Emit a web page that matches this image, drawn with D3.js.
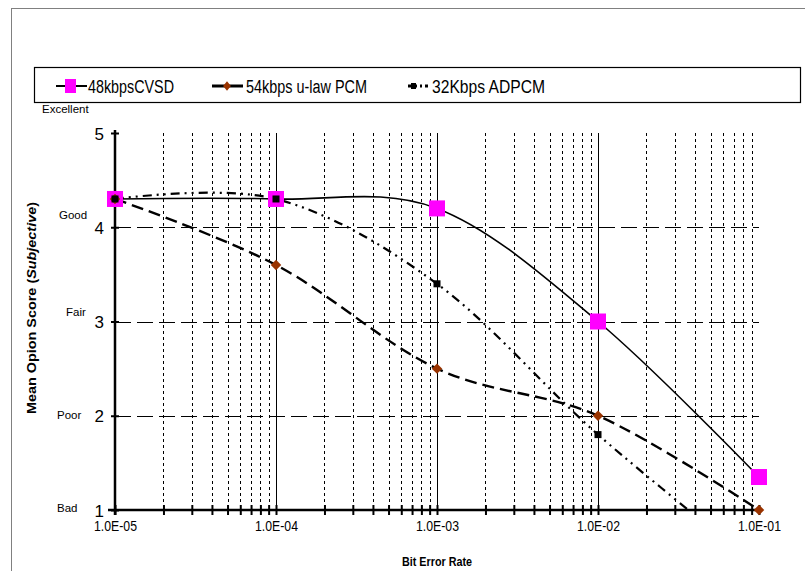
<!DOCTYPE html>
<head>
  <meta charset="utf-8">
  <script src="https://d3js.org/d3.v7.min.js"></script>
  <style>
    body { margin: 0; background: #fff; }
    text { font-family: "Liberation Sans", Arial, sans-serif; }
  </style>
</head>
<body>
<svg id="chart" width="805" height="571"></svg>
<script>
// data
var ber = [1e-5, 1e-4, 1e-3, 1e-2, 1e-1];
var cvsd = [4.3, 4.3, 4.2, 3.0, 1.35];     // 48kbpsCVSD
var pcm = [4.3, 3.6, 2.5, 2.0, 1.0];       // 54kbps u-law PCM
var adpcm = [4.3, 4.3, 3.4, 1.8, 0.4];     // 32Kbps ADPCM (runs off the bottom)
var xTickLabels = ["1.0E-05", "1.0E-04", "1.0E-03", "1.0E-02", "1.0E-01"];
var yTicks = [1, 2, 3, 4, 5];
var yQuality = ["Bad", "Poor", "Fair", "Good", "Excellent"];
var seriesNames = ["48kbpsCVSD", "54kbps u-law PCM", "32Kbps ADPCM"];

var svg = d3.select("#chart");

// plot area
var plotL = 115, plotR = 759, plotT = 133, plotB = 510;
var x = d3.scaleLog().domain([1e-5, 1e-1]).range([plotL, plotR]);
var y = d3.scaleLinear().domain([1, 5]).range([plotB, plotT]);

// outer frame
svg.append("rect")
  .attr("x", 11.5).attr("y", 8.5)
  .attr("width", 805).attr("height", 580)
  .attr("fill", "none").attr("stroke", "#808080");

// minor + major vertical grid
var minor = [];
for (var d = -5; d < -1; d++) {
  for (var m = 2; m <= 9; m++) minor.push(m * Math.pow(10, d));
}
svg.append("g").selectAll("line")
  .data(minor).enter().append("line")
  .attr("x1", function(d) { return Math.round(x(d)) + 0.5; })
  .attr("x2", function(d) { return Math.round(x(d)) + 0.5; })
  .attr("y1", plotT).attr("y2", plotB)
  .attr("stroke", "#000").attr("stroke-width", 1)
  .attr("stroke-dasharray", "3,3");

svg.append("g").selectAll("line")
  .data(ber.slice(1, 4)).enter().append("line")
  .attr("x1", function(d) { return Math.round(x(d)) + 0.5; })
  .attr("x2", function(d) { return Math.round(x(d)) + 0.5; })
  .attr("y1", plotT).attr("y2", plotB)
  .attr("stroke", "#000").attr("stroke-width", 1);

// horizontal dashed grid
svg.append("g").selectAll("line")
  .data([2, 3, 4]).enter().append("line")
  .attr("x1", plotL).attr("x2", plotR)
  .attr("y1", function(d) { return Math.round(y(d)) + 0.5; })
  .attr("y2", function(d) { return Math.round(y(d)) + 0.5; })
  .attr("stroke", "#000").attr("stroke-width", 1)
  .attr("stroke-dasharray", "16,6");

// axes
var xAxis = svg.append("g")
  .attr("transform", "translate(0," + plotB + ")")
  .call(d3.axisBottom(x).tickValues(ber.concat(minor)).tickSize(0).tickFormat(""));
xAxis.select(".domain").remove();
xAxis.append("line").attr("x1", 108).attr("x2", plotR)
  .attr("stroke", "#000").attr("stroke-width", 2.5);
xAxis.selectAll(".tick").append("line")
  .attr("y1", -5).attr("y2", 5).attr("stroke", "#000").attr("stroke-width", 2);
xAxis.selectAll(".tick").filter(function(d) { return ber.indexOf(d) >= 0; })
  .append("text")
  .attr("y", 21).attr("fill", "#000")
  .attr("font-size", "14px").attr("text-anchor", "middle")
  .attr("textLength", 43).attr("lengthAdjust", "spacingAndGlyphs")
  .text(function(d) { return xTickLabels[ber.indexOf(d)]; });

var yAxis = svg.append("g")
  .attr("transform", "translate(" + plotL + ",0)")
  .call(d3.axisLeft(y).tickValues(yTicks).tickSize(0).tickFormat(""));
yAxis.select(".domain").remove();
yAxis.append("line").attr("y1", plotT - 3).attr("y2", plotB + 5)
  .attr("stroke", "#000").attr("stroke-width", 2.5);
yAxis.selectAll(".tick").append("line")
  .attr("x1", -4).attr("x2", 4).attr("stroke", "#000").attr("stroke-width", 2);
yAxis.selectAll(".tick").append("text")
  .attr("x", -11).attr("dy", "0.36em").attr("fill", "#000")
  .attr("font-size", "17px").attr("text-anchor", "end")
  .text(function(d) { return d; });

// quality words beside the score ticks
var qualPos = [[57, 512], [57, 419], [66, 316], [59, 219], [42, 113]];
svg.append("g").selectAll("text")
  .data(yQuality).enter().append("text")
  .attr("x", function(d, i) { return qualPos[i][0]; })
  .attr("y", function(d, i) { return qualPos[i][1]; })
  .attr("font-size", "11.5px").attr("fill", "#000")
  .text(function(d) { return d; });

// axis titles
svg.append("text")
  .attr("x", 437).attr("y", 566)
  .attr("text-anchor", "middle").attr("font-size", "13px").attr("font-weight", "bold")
  .attr("textLength", 70).attr("lengthAdjust", "spacingAndGlyphs")
  .text("Bit Error Rate");

var yt = svg.append("text")
  .attr("transform", "translate(36,308) rotate(-90)")
  .attr("text-anchor", "middle").attr("font-size", "13px").attr("font-weight", "bold")
  .attr("textLength", 212).attr("lengthAdjust", "spacingAndGlyphs");
yt.append("tspan").text("Mean Opion Score (");
yt.append("tspan").attr("font-style", "italic").text("Subjective");
yt.append("tspan").text(")");

// lines
svg.append("clipPath").attr("id", "plotclip")
  .append("rect").attr("x", plotL - 20).attr("y", plotT - 20)
  .attr("width", plotR - plotL + 40).attr("height", plotB - plotT + 20);

var line = d3.line()
  .x(function(d) { return x(d[0]); })
  .y(function(d) { return y(d[1]); })
  .curve(d3.curveCatmullRom.alpha(0));

function pairs(vals) { return ber.map(function(b, i) { return [b, vals[i]]; }); }

var lines = svg.append("g").attr("clip-path", "url(#plotclip)");
lines.append("path").attr("d", line(pairs(cvsd)))
  .attr("fill", "none").attr("stroke", "#000").attr("stroke-width", 1.6);
lines.append("path").attr("d", line(pairs(pcm)))
  .attr("fill", "none").attr("stroke", "#000").attr("stroke-width", 2.4)
  .attr("stroke-dasharray", "12,6");
lines.append("path").attr("d", line(pairs(adpcm)))
  .attr("fill", "none").attr("stroke", "#000").attr("stroke-width", 2.2)
  .attr("stroke-dasharray", "9,5,2,5,2,5");

// markers
svg.append("g").selectAll("rect")
  .data(pairs(cvsd)).enter().append("rect")
  .attr("x", function(d) { return x(d[0]) - 8; })
  .attr("y", function(d) { return y(d[1]) - 8; })
  .attr("width", 16).attr("height", 16).attr("fill", "#ff00ff");

svg.append("g").selectAll("path")
  .data(pairs(pcm)).enter().append("path")
  .attr("d", d3.symbol().type(d3.symbolDiamond2).size(70))
  .attr("transform", function(d) { return "translate(" + x(d[0]) + "," + y(d[1]) + ")"; })
  .attr("fill", "#993300");

svg.append("g").selectAll("rect")
  .data(pairs(adpcm).filter(function(d) { return d[1] >= 1; })).enter().append("rect")
  .attr("x", function(d) { return x(d[0]) - 3.5; })
  .attr("y", function(d) { return y(d[1]) - 3.5; })
  .attr("width", 7).attr("height", 7).attr("fill", "#000");

// legend
var lg = svg.append("g");
lg.append("rect").attr("x", 34.5).attr("y", 67.5).attr("width", 766).attr("height", 35)
  .attr("fill", "#fff").attr("stroke", "#000").attr("stroke-width", 1.2);

var legendItems = [
  { x1: 56, x2: 87, tx: 88, w: 86, dash: null, width: 2 },
  { x1: 212, x2: 243, tx: 246, w: 121, dash: null, width: 3 },
  { x1: 408, x2: 428, tx: 432, w: 113, dash: "9,3,2,3", width: 3 }
];
var li = lg.selectAll(".legend").data(legendItems).enter().append("g").attr("class", "legend");
li.append("line")
  .attr("x1", function(d) { return d.x1; }).attr("x2", function(d) { return d.x2; })
  .attr("y1", 86).attr("y2", 86)
  .attr("stroke", "#000").attr("stroke-width", function(d) { return d.width; })
  .attr("stroke-dasharray", function(d) { return d.dash; });
li.append("text")
  .attr("x", function(d) { return d.tx; }).attr("y", 93)
  .attr("font-size", "18px").attr("fill", "#000")
  .attr("textLength", function(d) { return d.w; }).attr("lengthAdjust", "spacingAndGlyphs")
  .text(function(d, i) { return seriesNames[i]; });

lg.append("rect").attr("x", 65).attr("y", 79).attr("width", 11).attr("height", 14).attr("fill", "#ff00ff");
lg.append("path").attr("d", d3.symbol().type(d3.symbolDiamond2).size(60))
  .attr("transform", "translate(227,86) scale(0.8,1)").attr("fill", "#993300");
lg.append("rect").attr("x", 411).attr("y", 83).attr("width", 5).attr("height", 6).attr("fill", "#000");
</script>
</body>
</html>
